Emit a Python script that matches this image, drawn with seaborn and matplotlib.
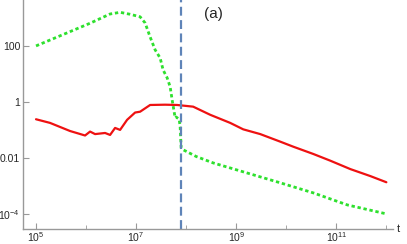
import numpy as np
import pandas as pd
import seaborn as sns
import matplotlib.pyplot as plt
from matplotlib.ticker import FixedLocator, FixedFormatter, NullFormatter

# log10 of t and log10 of the value
green_logt = [5.0, 5.28, 5.68, 6.08, 6.48, 6.68, 6.88, 7.08, 7.18, 7.28, 7.38, 7.48, 7.54, 7.62,
              7.68, 7.72, 7.78, 7.80, 7.86, 7.88, 7.90, 7.94, 8.2, 8.54, 9.22, 9.88, 10.54,
              11.22, 12.0]
green_logy = [2.0, 2.21, 2.51, 2.81, 3.14, 3.2, 3.13, 3.04, 2.82, 2.32, 1.86, 1.57, 1.14, 0.86,
              0.54, 0.07, -0.57, -0.54, -0.62, -0.89, -1.64, -1.71, -1.95, -2.18, -2.54, -2.89,
              -3.25, -3.68, -4.0]

red_logt = [5.0, 5.28, 5.68, 5.98, 6.08, 6.18, 6.38, 6.48, 6.58, 6.68, 6.82, 6.98, 7.08, 7.28,
            7.58, 7.82, 8.14, 8.48, 8.88, 9.14, 9.48, 9.88, 10.14, 10.54, 10.88, 11.28, 11.68,
            12.0]
red_logy = [-0.62, -0.75, -1.04, -1.2, -1.06, -1.15, -1.11, -1.18, -0.93, -1.0, -0.64, -0.38,
            -0.35, -0.11, -0.1, -0.11, -0.17, -0.46, -0.75, -0.98, -1.15, -1.42, -1.6, -1.86,
            -2.1, -2.4, -2.65, -2.87]

t_cross = 10 ** 7.9
xtick_pos = [1e5, 1e7, 1e9, 1e11]
xtick_lab = ['$10^{5}$', '$10^{7}$', '$10^{9}$', '$10^{11}$']
ytick_pos = [1e2, 1, 1e-2, 1e-4]
ytick_lab = ['100', '1', '0.01', '$10^{-4}$']

green = pd.DataFrame({'t': 10 ** np.array(green_logt), 'v': 10 ** np.array(green_logy)})
red = pd.DataFrame({'t': 10 ** np.array(red_logt), 'v': 10 ** np.array(red_logy)})

sns.set_style('ticks')
plt.rcParams['font.family'] = ['Liberation Sans', 'DejaVu Sans']
plt.rcParams['mathtext.fontset'] = 'custom'
plt.rcParams['mathtext.rm'] = 'Liberation Sans'
plt.rcParams['mathtext.it'] = 'Liberation Sans'

fig = plt.figure(figsize=(4.07, 2.44), dpi=100)
ax = fig.add_axes([0.0565, 0.0615, 0.91, 0.9385])

sns.lineplot(data=green, x='t', y='v', ax=ax, color='#2ee02e', lw=2.0, linestyle=(0, (1.2, 1)))
sns.lineplot(data=red, x='t', y='v', ax=ax, color='#ee1111', lw=1.6)
ax.axvline(t_cross, color='#5f84b8', lw=1.6, linestyle=(0, (4, 2)))

ax.set_xscale('log')
ax.set_yscale('log')
ax.set_xlim(10 ** 4.74, 10 ** 12.14)
ax.set_ylim(10 ** -4.54, 10 ** 3.64)

ax.xaxis.set_major_locator(FixedLocator(xtick_pos))
ax.xaxis.set_major_formatter(FixedFormatter(xtick_lab))
ax.xaxis.set_minor_locator(FixedLocator([1e6, 1e8, 1e10, 1e12]))
ax.xaxis.set_minor_formatter(NullFormatter())
ax.yaxis.set_major_locator(FixedLocator(ytick_pos))
ax.yaxis.set_major_formatter(FixedFormatter(ytick_lab))
ax.yaxis.set_minor_locator(FixedLocator([]))

ax.tick_params(which='both', direction='in', color='#999999', labelsize=7.5)
ax.tick_params(axis='x', pad=1)
ax.tick_params(axis='y', pad=2)
ax.tick_params(which='major', length=4)
ax.tick_params(which='minor', length=3)
ax.set_xlabel('')
ax.set_ylabel('')
sns.despine(ax=ax)
for s in ['left', 'bottom']:
    ax.spines[s].set_color('#999999')
    ax.spines[s].set_linewidth(1.0)

ax.text(1.01, 0.0, 't', transform=ax.transAxes, fontsize=8, va='center', ha='left')
ax.text(10 ** 8.55, 10 ** 3.15, '(a)', fontsize=11, ha='center', va='center')

fig.savefig('out.png', dpi=100)
